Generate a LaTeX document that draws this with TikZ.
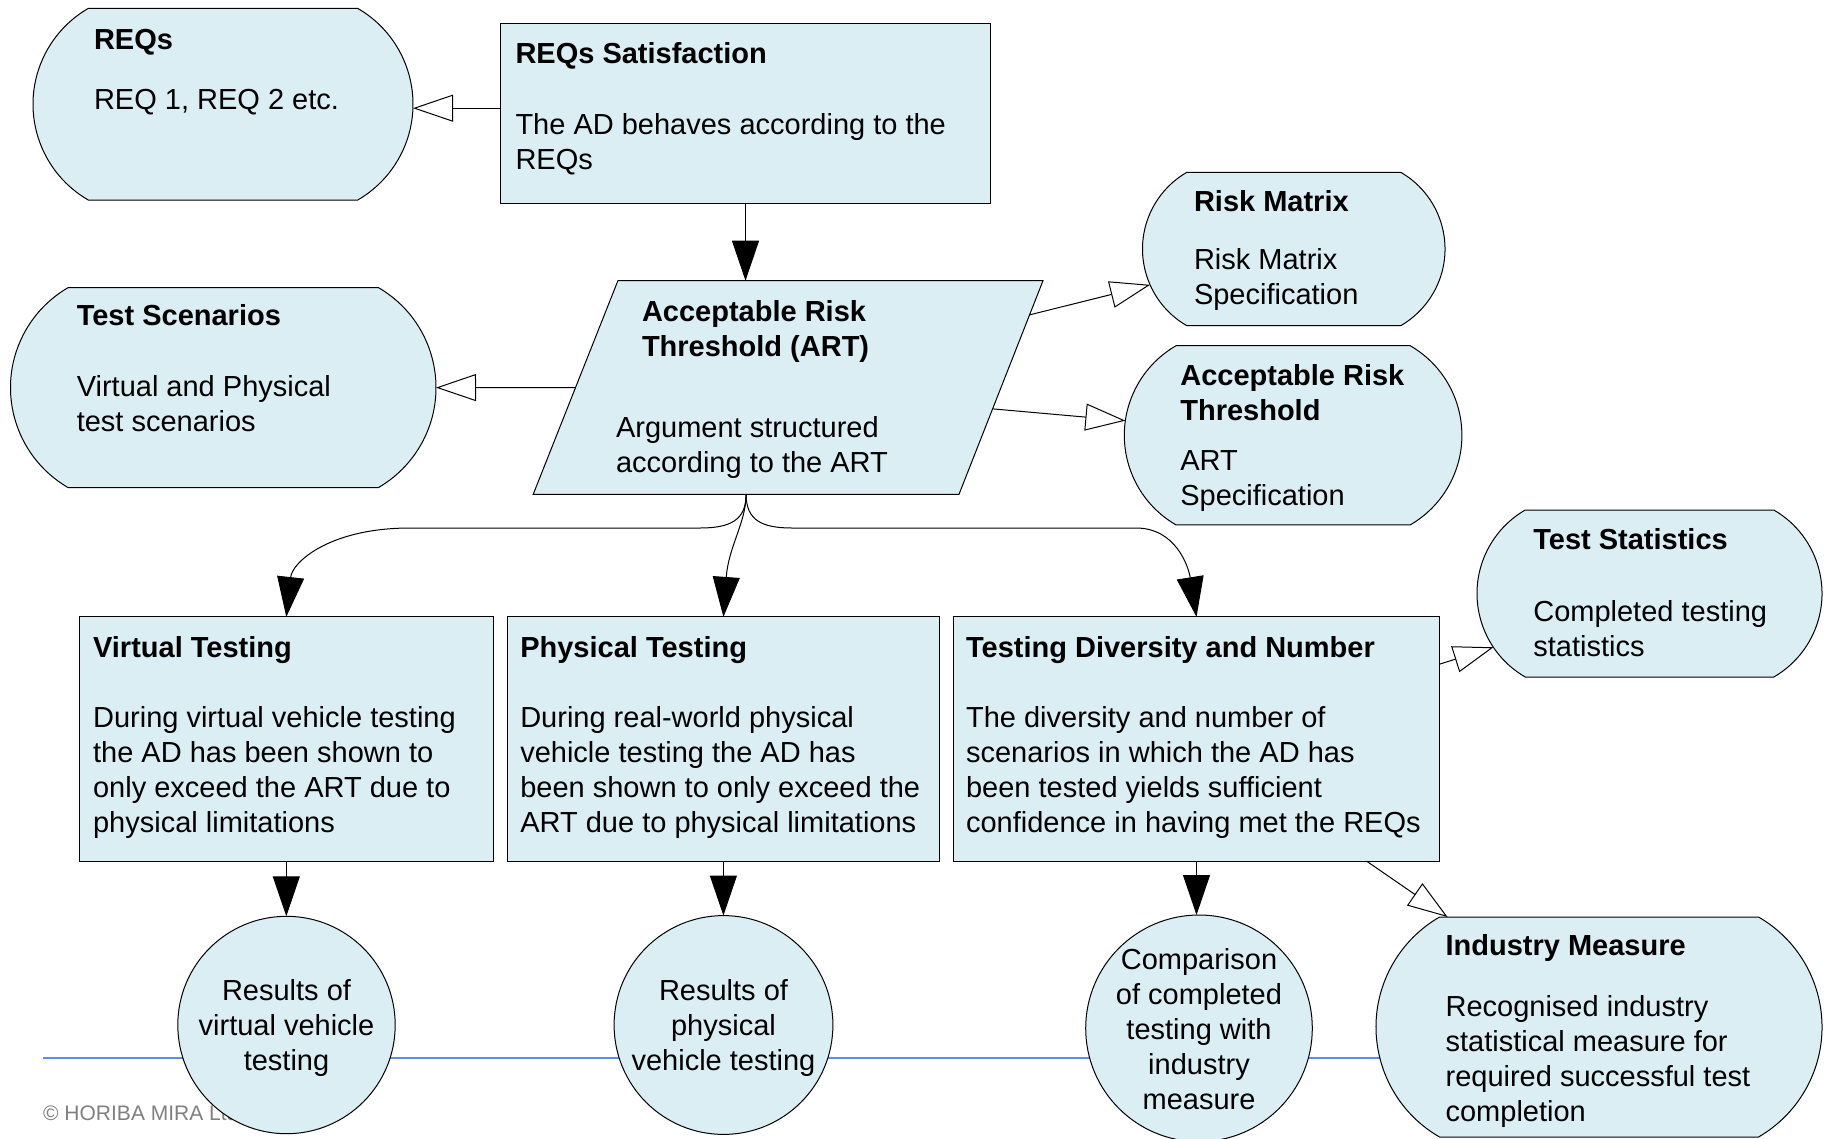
\documentclass[tikz,border=0pt]{standalone}
\usepackage{fontspec}
\setmainfont{Liberation Sans}
\usetikzlibrary{arrows.meta,shapes.misc,calc}
\definecolor{boxfill}{HTML}{DAEEF3}
\definecolor{rulecol}{HTML}{5A8FE8}
\definecolor{notecol}{HTML}{808080}
\newcommand\bodysize{\fontsize{29pt}{35pt}\selectfont}
\newcommand\fstrut{\rule{0pt}{25pt}}

\begin{document}
\begin{tikzpicture}[x=1pt,y=-1pt,
  gsnbase/.style={draw=black, fill=boxfill, line width=1pt, inner sep=0pt, outer sep=0pt},
  gsnclaim/.style={gsnbase, rectangle},
  gsncontext/.style={gsnbase, rounded rectangle, rounded rectangle arc length=120},
  gsnsolution/.style={gsnbase, circle},
  txt/.style={anchor=north west, inner sep=0pt, outer sep=0pt, align=left, font=\bodysize},
  ctxt/.style={anchor=north, inner sep=0pt, outer sep=0pt, align=center, font=\bodysize},
  support/.style={line width=1pt, line join=miter, -{Triangle[length=40pt,width=27pt]}},
  incontext/.style={line width=1pt, line join=miter, -{Triangle[length=40pt,width=27pt,fill=white]}},
]
\useasboundingbox (0,0) rectangle (1825,1138);
\fill[white] (0,0) rectangle (1825,1138);

% footer rule and copyright, partly hidden by the bottom row
\coordinate (ruleL) at (43,1058);
\coordinate (ruleR) at (1500,1058);
\draw[rulecol, line width=2pt] (ruleL) -- (ruleR);
\node[anchor=base west, inner sep=0pt, font=\fontsize{21pt}{24pt}\selectfont, text=notecol]
  (copyright) at (43,1120) {© HORIBA MIRA Ltd.};

% ---- shapes ----
\node[gsncontext, minimum width=380pt, minimum height=191.7pt] (reqs) at (223,104.2) {};
\node[gsnclaim, minimum width=490pt, minimum height=180.4pt] (reqsat) at (745.5,113.5) {};

% strategy: parallelogram given by its corners
\coordinate (art-tl) at (617.9,280.7);
\coordinate (art-tr) at (1043,280.7);
\coordinate (art-br) at (959,494.3);
\coordinate (art-bl) at (533.2,494.3);
\filldraw[gsnbase, line join=miter] (art-tl) -- (art-tr) -- (art-br) -- (art-bl) -- cycle;
\coordinate (art-s) at ($(art-bl)!0.5!(art-br)$);
\coordinate (art-w) at ($(art-tl)!0.5!(art-bl)$);
\coordinate (art-e1) at ($(art-tr)!0.16!(art-br)$);
\coordinate (art-e2) at ($(art-tr)!0.6!(art-br)$);

\node[gsncontext, minimum width=302.5pt, minimum height=153.4pt] (rm) at (1293.75,249) {};
\node[gsncontext, minimum width=337.6pt, minimum height=179.2pt] (as) at (1293.1,435.3) {};
\node[gsncontext, minimum width=425.5pt, minimum height=200.2pt] (tsc) at (223.25,387.6) {};
\node[gsnclaim, minimum width=414.4pt, minimum height=244.4pt] (vt) at (286.3,739.1) {};
\node[gsnclaim, minimum width=431.8pt, minimum height=244.4pt] (pt) at (723.4,739.1) {};
\node[gsnclaim, minimum width=486.6pt, minimum height=244.4pt] (td) at (1196.5,739.1) {};
\node[gsncontext, minimum width=345pt, minimum height=167pt] (ts) at (1649.5,593.5) {};
\node[gsncontext, minimum width=446pt, minimum height=220pt] (im) at (1599,1027) {};
\node[gsnsolution, minimum size=217.4pt] (vc) at (286.5,1025) {};
\node[gsnsolution, minimum size=218.8pt] (pc) at (723.5,1025) {};
\node[gsnsolution, minimum size=226.6pt] (cc) at (1199,1028.3) {};

% ---- texts ----
\node[txt] (reqs-t) at (94,24.3) {\fstrut{\bfseries REQs}\\[25pt]REQ 1, REQ 2 etc.};
\node[txt] (reqsat-t) at (515.5,38) {\fstrut{\bfseries REQs Satisfaction}\\[36pt]The AD behaves according to the\\REQs};
\node[txt] (art-h) at (642,296.5) {\fstrut{\bfseries Acceptable Risk}\\{\bfseries Threshold (ART)}};
\node[txt] (art-t) at (616,412) {\fstrut Argument structured\\according to the ART};
\node[txt] (rm-t) at (1194,186.7) {\fstrut{\bfseries Risk Matrix}\\[22.5pt]Risk Matrix\\Specification};
\node[txt] (as-t) at (1180.3,360.3) {\fstrut{\bfseries Acceptable Risk}\\{\bfseries Threshold}\\[15pt]ART\\Specification};
\node[txt] (tsc-t) at (76.8,300.9) {\fstrut{\bfseries Test Scenarios}\\[36pt]Virtual and Physical\\test scenarios};
\node[txt] (vt-t) at (93.1,632.6) {\fstrut{\bfseries Virtual Testing}\\[35pt]During virtual vehicle testing\\the AD has been shown to\\only exceed the ART due to\\physical limitations};
\node[txt] (pt-t) at (520.3,632.6) {\fstrut{\bfseries Physical Testing}\\[35pt]During real-world physical\\vehicle testing the AD has\\been shown to only exceed the\\ART due to physical limitations};
\node[txt] (td-t) at (966.1,632.6) {\fstrut{\bfseries Testing Diversity and Number}\\[35pt]The diversity and number of\\scenarios in which the AD has\\been tested yields sufficient\\confidence in having met the REQs};
\node[txt] (ts-t) at (1533.3,524.5) {\fstrut{\bfseries Test Statistics}\\[37pt]Completed testing\\statistics};
\node[txt] (im-t) at (1445.6,930.5) {\fstrut{\bfseries Industry Measure}\\[25.5pt]Recognised industry\\statistical measure for\\required successful test\\completion};
\node[ctxt] (vc-t) at (286.5,975) {\fstrut Results of\\virtual vehicle\\testing};
\node[ctxt] (pc-t) at (723.5,975.5) {\fstrut Results of\\physical\\vehicle testing};
\node[ctxt] (cc-t) at (1199,944.6) {\fstrut Comparison\\of completed\\testing with\\industry\\measure};

% ---- connectors ----
\draw[incontext] ($(reqsat.west |- reqs.east)+(0,4)$) -- ($(reqs.east)+(0,4)$);
\draw[support] (reqsat.south) -- (reqsat.south |- art-tl);
\draw[incontext] (art-w) -- (tsc.east);
\draw[incontext] (art-e1) -- (rm.194);
\draw[incontext] (art-e2) -- (as.175);

\draw[support] (art-s) .. controls +(0,26) and +(30,0) .. (700,528)
  -- (410,528) .. controls +(-80,0) and +(6,-55) .. (vt.north);
\draw[support] (art-s) .. controls +(0,28) and +(5,-70) .. (pt.north);
\draw[support] (art-s) .. controls +(0,26) and +(-30,0) .. (792,528)
  -- (1136,528) .. controls +(40,0) and +(-8,-50) .. (td.north);

\draw[support] (vt.south) -- (vt.south |- vc.north);
\draw[support] (pt.south) -- (pt.south |- pc.north);
\draw[support] (td.south) -- (td.south |- cc.north);
\draw[incontext] ($(td.north east)!0.193!(td.south east)$) -- (ts.199);
\draw[incontext] ($(td.south west)!0.85!(td.south east)$) -- (im.144);
\end{tikzpicture}
\end{document}
